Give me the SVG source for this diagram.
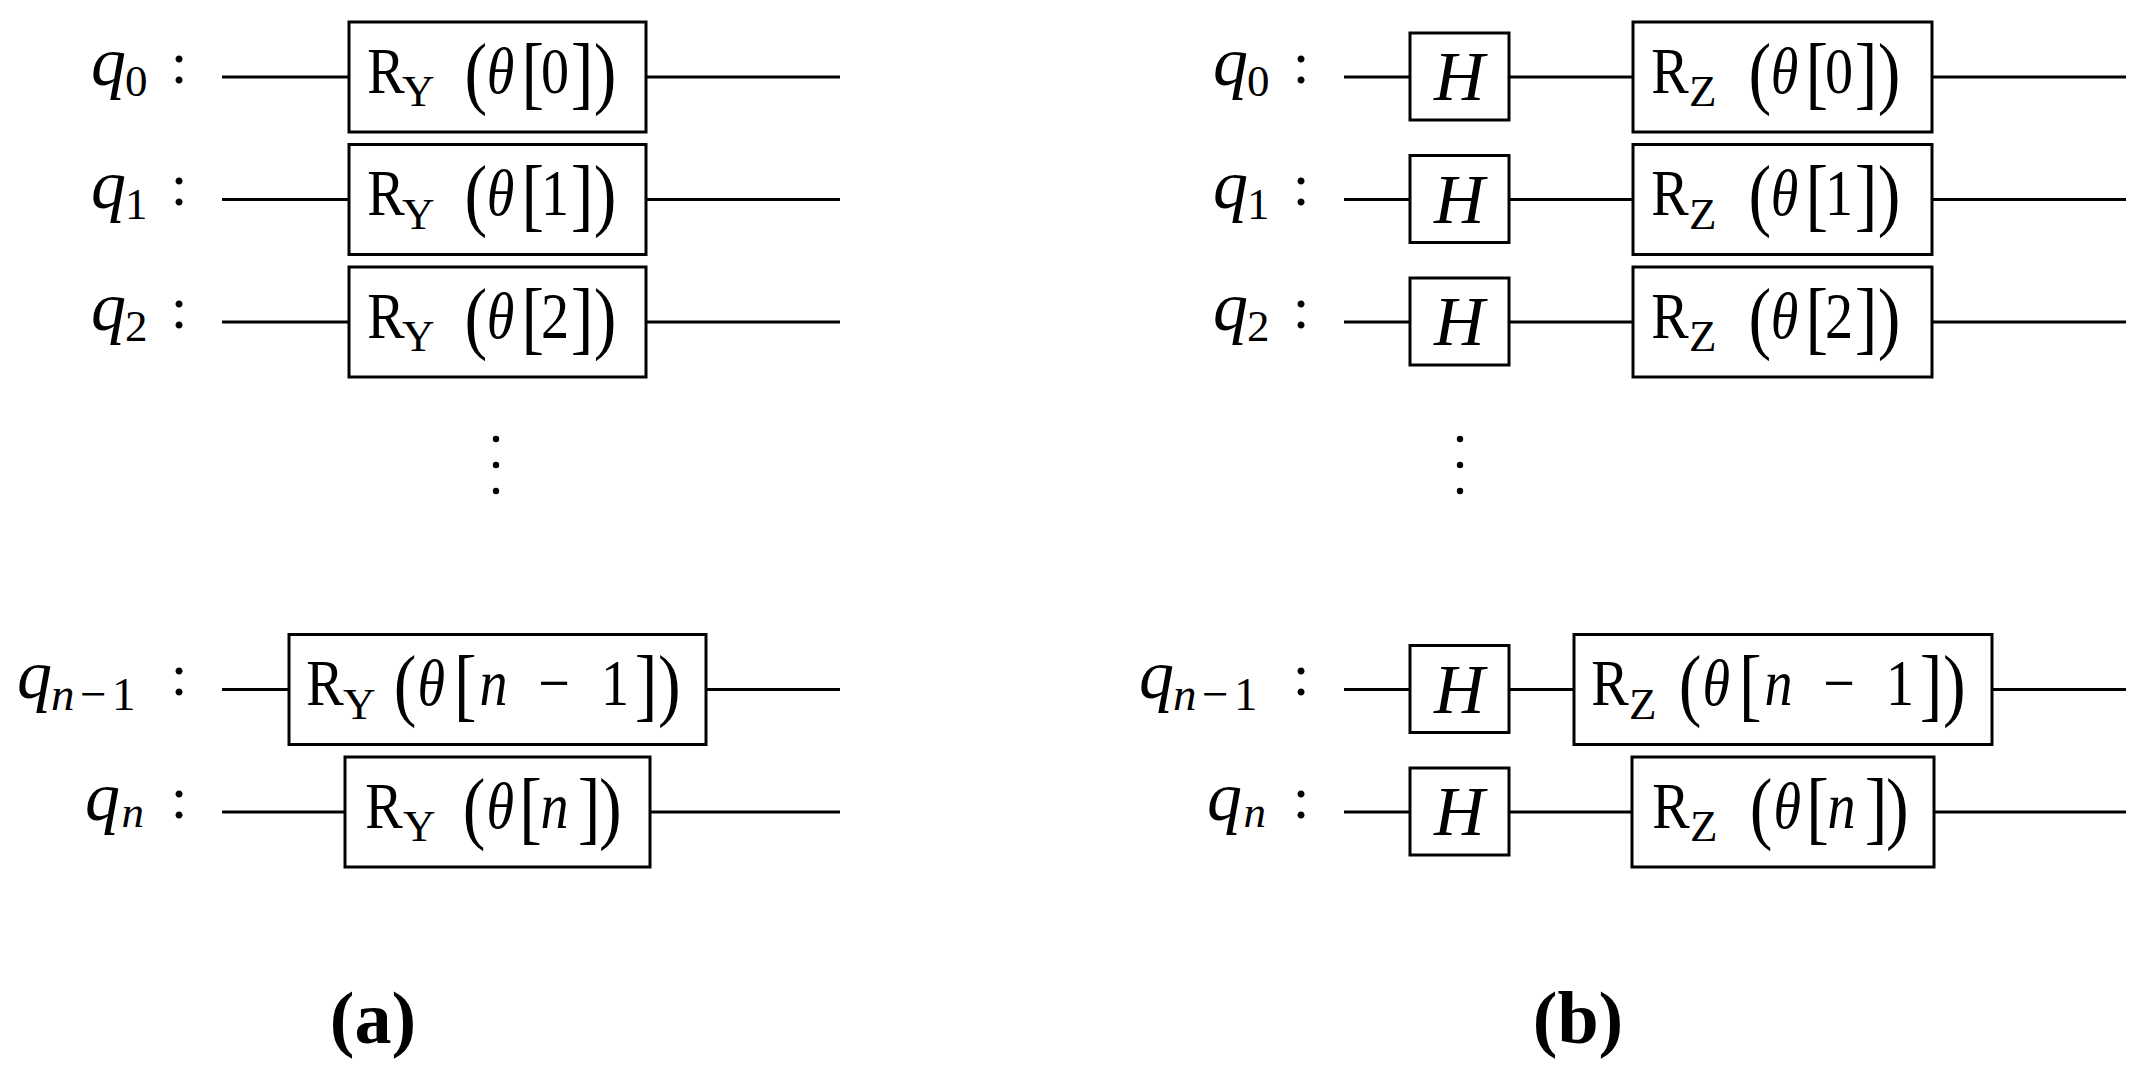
<svg xmlns="http://www.w3.org/2000/svg" width="2155" height="1075" viewBox="0 0 2155 1075">
<style>
.w{stroke:#000;stroke-width:3;fill:none}
.box{fill:#fff;stroke:#000;stroke-width:3}
.t{font-family:"Liberation Serif",serif;fill:#000}
.q{font-size:70px;font-style:italic}
.s{font-size:45px}
.si{font-size:45px;font-style:italic}
.s2{font-size:47px}
.si2{font-size:47px;font-style:italic}
.c{font-size:60px}
.gm{font-size:66px}
.gi{font-size:66px;font-style:italic}
.gs{font-size:45px}
.gp{font-size:80px}
.h{font-size:70px;font-style:italic}
.cap{font-size:74px;font-weight:bold}
</style>
<rect width="2155" height="1075" fill="#fff"/>
<g id="connectors">
<line class="w" x1="222" y1="77" x2="840" y2="77"/>
<line class="w" x1="222" y1="199.5" x2="840" y2="199.5"/>
<line class="w" x1="222" y1="322" x2="840" y2="322"/>
<line class="w" x1="222" y1="689.5" x2="840" y2="689.5"/>
<line class="w" x1="222" y1="812" x2="840" y2="812"/>
<line class="w" x1="1344" y1="77" x2="2126" y2="77"/>
<line class="w" x1="1344" y1="199.5" x2="2126" y2="199.5"/>
<line class="w" x1="1344" y1="322" x2="2126" y2="322"/>
<line class="w" x1="1344" y1="689.5" x2="2126" y2="689.5"/>
<line class="w" x1="1344" y1="812" x2="2126" y2="812"/>
</g>
<!-- left labels -->
<g id="a-label-q0" class="t"><text><tspan class="q" x="91" y="85">q</tspan><tspan class="s" x="125" y="96">0</tspan></text><text class="c" x="179" y="82.5" text-anchor="middle">:</text></g>
<g id="a-label-q1" class="t"><text><tspan class="q" x="91" y="207.5">q</tspan><tspan class="s" x="125" y="218.5">1</tspan></text><text class="c" x="179" y="205" text-anchor="middle">:</text></g>
<g id="a-label-q2" class="t"><text><tspan class="q" x="91" y="330">q</tspan><tspan class="s" x="125" y="341">2</tspan></text><text class="c" x="179" y="327.5" text-anchor="middle">:</text></g>
<g id="a-label-qn1" class="t"><text><tspan class="q" x="17" y="697.5">q</tspan><tspan class="si2" x="51" y="710">n</tspan><tspan class="s2" x="80" y="710">−</tspan><tspan class="s2" x="112" y="710">1</tspan></text><text class="c" x="179" y="695" text-anchor="middle">:</text></g>
<g id="a-label-qn" class="t"><text><tspan class="q" x="85" y="820">q</tspan><tspan class="si" x="121.5" y="827">n</tspan></text><text class="c" x="179" y="817.5" text-anchor="middle">:</text></g>
<!-- left gates -->
<g id="a-ry0"><rect class="box" x="349" y="22" width="297" height="110"/>
<text class="t" transform="translate(349 0) scale(0.85 1)"><tspan class="gm" x="21.4" y="93">R</tspan><tspan class="gp" x="136" y="99">(</tspan><tspan class="gi" x="162" y="93">θ</tspan><tspan class="gp" x="203" y="99">[</tspan><tspan class="gm" x="226" y="93">0</tspan><tspan class="gp" x="261" y="99">]</tspan><tspan class="gp" x="288" y="99">)</tspan></text>
<text class="t gs" x="402" y="106">Y</text></g>
<g id="a-ry1"><rect class="box" x="349" y="144.5" width="297" height="110"/>
<text class="t" transform="translate(349 0) scale(0.85 1)"><tspan class="gm" x="21.4" y="215.5">R</tspan><tspan class="gp" x="136" y="221.5">(</tspan><tspan class="gi" x="162" y="215.5">θ</tspan><tspan class="gp" x="203" y="221.5">[</tspan><tspan class="gm" x="226" y="215.5">1</tspan><tspan class="gp" x="261" y="221.5">]</tspan><tspan class="gp" x="288" y="221.5">)</tspan></text>
<text class="t gs" x="402" y="228.5">Y</text></g>
<g id="a-ry2"><rect class="box" x="349" y="267" width="297" height="110"/>
<text class="t" transform="translate(349 0) scale(0.85 1)"><tspan class="gm" x="21.4" y="338">R</tspan><tspan class="gp" x="136" y="344">(</tspan><tspan class="gi" x="162" y="338">θ</tspan><tspan class="gp" x="203" y="344">[</tspan><tspan class="gm" x="226" y="338">2</tspan><tspan class="gp" x="261" y="344">]</tspan><tspan class="gp" x="288" y="344">)</tspan></text>
<text class="t gs" x="402" y="351">Y</text></g>
<g id="a-vdots"><circle cx="496" cy="439" r="3.2"/><circle cx="496" cy="465" r="3.2"/><circle cx="496" cy="491" r="3.2"/></g>
<g id="a-ryn1"><rect class="box" x="289" y="634.5" width="417" height="110"/>
<text class="t" transform="translate(289 0) scale(0.85 1)"><tspan class="gm" x="20.2" y="705.5">R</tspan><tspan class="gp" x="123.2" y="711.5">(</tspan><tspan class="gi" x="151.3" y="705.5">θ</tspan><tspan class="gp" x="194" y="711.5">[</tspan><tspan class="gi" x="224.2" y="705.5">n</tspan><tspan class="gm" x="293.3" y="705.5">−</tspan><tspan class="gm" x="367" y="705.5">1</tspan><tspan class="gp" x="406.7" y="711.5">]</tspan><tspan class="gp" x="434.2" y="711.5">)</tspan></text>
<text class="t gs" x="343" y="718.5">Y</text></g>
<g id="a-ryn"><rect class="box" x="345" y="757" width="305" height="110"/>
<text class="t" transform="translate(345 0) scale(0.85 1)"><tspan class="gm" x="23.7" y="828">R</tspan><tspan class="gp" x="138.6" y="834">(</tspan><tspan class="gi" x="166.6" y="828">θ</tspan><tspan class="gp" x="205" y="834">[</tspan><tspan class="gi" x="230.1" y="828">n</tspan><tspan class="gp" x="273.8" y="834">]</tspan><tspan class="gp" x="298.9" y="834">)</tspan></text>
<text class="t gs" x="403" y="841">Y</text></g>
<!-- right labels -->
<g id="b-label-q0" class="t"><text><tspan class="q" x="1213" y="85">q</tspan><tspan class="s" x="1247" y="96">0</tspan></text><text class="c" x="1301" y="82.5" text-anchor="middle">:</text></g>
<g id="b-label-q1" class="t"><text><tspan class="q" x="1213" y="207.5">q</tspan><tspan class="s" x="1247" y="218.5">1</tspan></text><text class="c" x="1301" y="205" text-anchor="middle">:</text></g>
<g id="b-label-q2" class="t"><text><tspan class="q" x="1213" y="330">q</tspan><tspan class="s" x="1247" y="341">2</tspan></text><text class="c" x="1301" y="327.5" text-anchor="middle">:</text></g>
<g id="b-label-qn1" class="t"><text><tspan class="q" x="1139" y="697.5">q</tspan><tspan class="si2" x="1173" y="710">n</tspan><tspan class="s2" x="1202" y="710">−</tspan><tspan class="s2" x="1234" y="710">1</tspan></text><text class="c" x="1301" y="695" text-anchor="middle">:</text></g>
<g id="b-label-qn" class="t"><text><tspan class="q" x="1207" y="820">q</tspan><tspan class="si" x="1243.5" y="827">n</tspan></text><text class="c" x="1301" y="817.5" text-anchor="middle">:</text></g>
<!-- right H gates -->
<g id="b-h0"><rect class="box" x="1410" y="33" width="99" height="87"/><text class="t h" x="1434" y="100">H</text></g>
<g id="b-h1"><rect class="box" x="1410" y="155.5" width="99" height="87"/><text class="t h" x="1434" y="222.5">H</text></g>
<g id="b-h2"><rect class="box" x="1410" y="278" width="99" height="87"/><text class="t h" x="1434" y="345">H</text></g>
<g id="b-hn1"><rect class="box" x="1410" y="645.5" width="99" height="87"/><text class="t h" x="1434" y="712.5">H</text></g>
<g id="b-hn"><rect class="box" x="1410" y="768" width="99" height="87"/><text class="t h" x="1434" y="835">H</text></g>
<g id="b-vdots"><circle cx="1460" cy="439" r="3.2"/><circle cx="1460" cy="465" r="3.2"/><circle cx="1460" cy="491" r="3.2"/></g>
<!-- right RZ gates -->
<g id="b-rz0"><rect class="box" x="1633" y="22" width="299" height="110"/>
<text class="t" transform="translate(1633 0) scale(0.85 1)"><tspan class="gm" x="21.4" y="93">R</tspan><tspan class="gp" x="136" y="99">(</tspan><tspan class="gi" x="162" y="93">θ</tspan><tspan class="gp" x="203" y="99">[</tspan><tspan class="gm" x="226" y="93">0</tspan><tspan class="gp" x="261" y="99">]</tspan><tspan class="gp" x="288" y="99">)</tspan></text>
<text class="t gs" x="1689" y="106">Z</text></g>
<g id="b-rz1"><rect class="box" x="1633" y="144.5" width="299" height="110"/>
<text class="t" transform="translate(1633 0) scale(0.85 1)"><tspan class="gm" x="21.4" y="215.5">R</tspan><tspan class="gp" x="136" y="221.5">(</tspan><tspan class="gi" x="162" y="215.5">θ</tspan><tspan class="gp" x="203" y="221.5">[</tspan><tspan class="gm" x="226" y="215.5">1</tspan><tspan class="gp" x="261" y="221.5">]</tspan><tspan class="gp" x="288" y="221.5">)</tspan></text>
<text class="t gs" x="1689" y="228.5">Z</text></g>
<g id="b-rz2"><rect class="box" x="1633" y="267" width="299" height="110"/>
<text class="t" transform="translate(1633 0) scale(0.85 1)"><tspan class="gm" x="21.4" y="338">R</tspan><tspan class="gp" x="136" y="344">(</tspan><tspan class="gi" x="162" y="338">θ</tspan><tspan class="gp" x="203" y="344">[</tspan><tspan class="gm" x="226" y="338">2</tspan><tspan class="gp" x="261" y="344">]</tspan><tspan class="gp" x="288" y="344">)</tspan></text>
<text class="t gs" x="1689" y="351">Z</text></g>
<g id="b-rzn1"><rect class="box" x="1574" y="634.5" width="418" height="110"/>
<text class="t" transform="translate(1574 0) scale(0.85 1)"><tspan class="gm" x="20.2" y="705.5">R</tspan><tspan class="gp" x="123.2" y="711.5">(</tspan><tspan class="gi" x="151.3" y="705.5">θ</tspan><tspan class="gp" x="194" y="711.5">[</tspan><tspan class="gi" x="224.2" y="705.5">n</tspan><tspan class="gm" x="293.3" y="705.5">−</tspan><tspan class="gm" x="367" y="705.5">1</tspan><tspan class="gp" x="406.7" y="711.5">]</tspan><tspan class="gp" x="434.2" y="711.5">)</tspan></text>
<text class="t gs" x="1629" y="718.5">Z</text></g>
<g id="b-rzn"><rect class="box" x="1632" y="757" width="302" height="110"/>
<text class="t" transform="translate(1632 0) scale(0.85 1)"><tspan class="gm" x="23.7" y="828">R</tspan><tspan class="gp" x="138.6" y="834">(</tspan><tspan class="gi" x="166.6" y="828">θ</tspan><tspan class="gp" x="205" y="834">[</tspan><tspan class="gi" x="230.1" y="828">n</tspan><tspan class="gp" x="273.8" y="834">]</tspan><tspan class="gp" x="298.9" y="834">)</tspan></text>
<text class="t gs" x="1690" y="841">Z</text></g>
<!-- captions -->
<g id="caption-a"><text class="t cap" x="373" y="1043" text-anchor="middle">(a)</text></g>
<g id="caption-b"><text class="t cap" x="1578" y="1043" text-anchor="middle">(b)</text></g>
</svg>
